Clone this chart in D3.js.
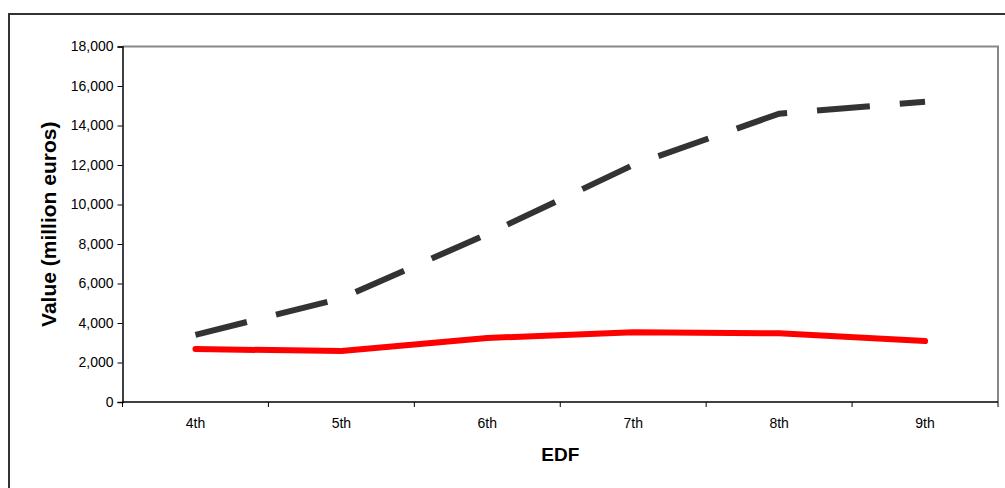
<!DOCTYPE html>
<html>
<head>
<meta charset="utf-8">
<script src="https://cdn.jsdelivr.net/npm/d3@7"></script>
<style>
  body { margin: 0; background: #fff; font-family: Arial, "Liberation Sans", Helvetica, sans-serif; }
  svg { display: block; }
</style>
</head>
<body>
<svg id="chart"></svg>
<script>
// data
let categories = ["4th", "5th", "6th", "7th", "8th", "9th"]
let dashedValues = [3400, 5250, 8500, 12000, 14600, 15200]
let redValues = [2680, 2580, 3240, 3530, 3480, 3090]
let yTicks = [0, 2000, 4000, 6000, 8000, 10000, 12000, 14000, 16000, 18000]

let width = 1005, height = 488
let svg = d3.select("#chart").attr("width", width).attr("height", height)

// outer frame
svg.append("rect")
  .attr("x", 9).attr("y", 14)
  .attr("width", 1010).attr("height", 500)
  .attr("fill", "none").attr("stroke", "#333").attr("stroke-width", 2)

let x = d3.scaleBand().domain(categories).range([122.5, 998])
let y = d3.scaleLinear().domain([0, 18000]).range([402, 46.5])

// plot area gray top/right
svg.append("path")
  .attr("d", `M${x.range()[0]},${y(18000)}H${x.range()[1]}V${y(0)}`)
  .attr("fill", "none").attr("stroke", "#888").attr("stroke-width", 2)

// y axis
let yAxis = svg.append("g")
  .attr("transform", `translate(${x.range()[0]},0)`)
  .call(d3.axisLeft(y).tickValues(yTicks).tickSize(5).tickPadding(4).tickFormat(d3.format(",")))
yAxis.select(".domain").attr("stroke", "#000").attr("stroke-width", 1.5)
yAxis.selectAll("text").attr("font-size", 14).attr("font-family", "Arial, 'Liberation Sans', sans-serif").attr("fill", "#000")

// x axis: ticks at band boundaries
let xAxis = svg.append("g").attr("transform", `translate(0,${y(0)})`)
xAxis.append("line")
  .attr("x1", x.range()[0]).attr("x2", x.range()[1])
  .attr("stroke", "#000").attr("stroke-width", 1.5)
let bounds = categories.map(c => x(c)).concat([x.range()[1]])
xAxis.selectAll(".tk").data(bounds).enter().append("line")
  .attr("x1", d => d).attr("x2", d => d).attr("y1", 0).attr("y2", 5)
  .attr("stroke", "#000")
xAxis.selectAll(".lbl").data(categories).enter().append("text")
  .attr("x", d => x(d) + x.bandwidth() / 2).attr("y", 26)
  .attr("text-anchor", "middle").attr("font-size", 14).attr("fill", "#000")
  .text(d => d)

let line = d3.line()
  .x((d, i) => x(categories[i]) + x.bandwidth() / 2)
  .y(d => y(d))

svg.append("path").datum(dashedValues)
  .attr("d", line).attr("fill", "none")
  .attr("stroke", "#333").attr("stroke-width", 6)
  .attr("stroke-dasharray", "53,30").attr("stroke-linecap", "butt")

svg.append("path").datum(redValues)
  .attr("d", line).attr("fill", "none")
  .attr("stroke", "#ff0000").attr("stroke-width", 6)
  .attr("stroke-linecap", "round").attr("stroke-linejoin", "round")

// axis titles
svg.append("text")
  .attr("x", (x.range()[0] + x.range()[1]) / 2).attr("y", 461)
  .attr("text-anchor", "middle").attr("font-size", 19).attr("font-weight", "bold")
  .text("EDF")

svg.append("text")
  .attr("transform", `translate(56,${(y(0) + y(18000)) / 2}) rotate(-90)`)
  .attr("text-anchor", "middle").attr("font-size", 21).attr("font-weight", "bold")
  .text("Value (million euros)")
</script>
</body>
</html>
